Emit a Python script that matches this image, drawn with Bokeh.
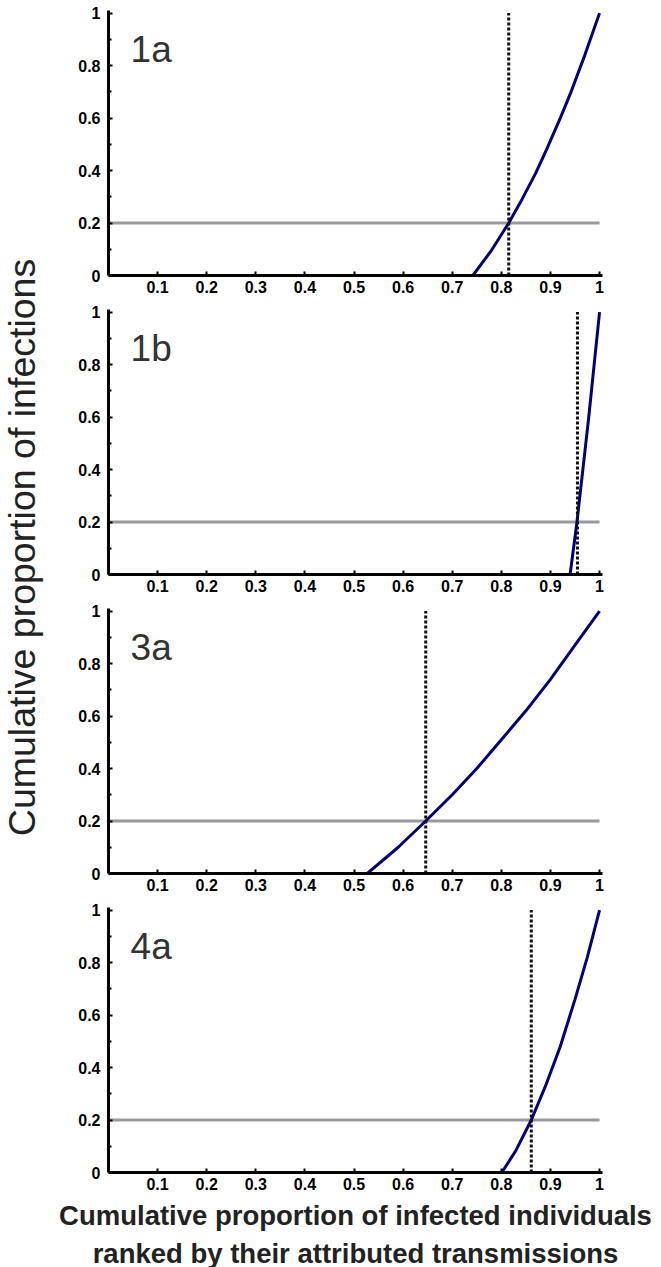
import math
from bokeh.plotting import figure
from bokeh.layouts import row, column
from bokeh.models import Range1d, FixedTicker, Label, Title
from bokeh.embed import file_html
from bokeh.resources import INLINE

# ---------------- data ----------------
panel_names = ["1a", "1b", "3a", "4a"]

x_1a = [0.742, 0.78, 0.815, 0.842, 0.87, 0.892, 0.92, 0.942, 0.97, 1.0]
y_1a = [0.0, 0.096, 0.2, 0.29, 0.39, 0.48, 0.60, 0.70, 0.84, 1.0]

x_1b = [0.940, 0.954, 0.966, 0.978, 0.989, 1.0]
y_1b = [0.0, 0.2, 0.4, 0.6, 0.8, 1.0]

x_3a = [0.527, 0.59, 0.646, 0.70, 0.75, 0.80, 0.85, 0.90, 0.95, 1.0]
y_3a = [0.0, 0.10, 0.2, 0.30, 0.40, 0.51, 0.62, 0.74, 0.87, 1.0]

x_4a = [0.801, 0.83, 0.861, 0.89, 0.92, 0.95, 0.975, 1.0]
y_4a = [0.0, 0.085, 0.2, 0.33, 0.48, 0.66, 0.82, 1.0]

curves_x = [x_1a, x_1b, x_3a, x_4a]
curves_y = [y_1a, y_1b, y_3a, y_4a]

cutoffs = [0.815, 0.955, 0.646, 0.861]   # dotted vertical lines
threshold_x = [0.0, 1.0]
threshold_y = [0.2, 0.2]

x_ticks = [0.1, 0.2, 0.3, 0.4, 0.5, 0.6, 0.7, 0.8, 0.9, 1.0]
x_tick_labels = ["0.1", "0.2", "0.3", "0.4", "0.5", "0.6", "0.7", "0.8", "0.9", "1"]
y_ticks = [0.0, 0.2, 0.4, 0.6, 0.8, 1.0]
y_tick_labels = ["0", "0.2", "0.4", "0.6", "0.8", "1"]
y_minor = [0.1, 0.3, 0.5, 0.7, 0.9]

y_label = "Cumulative proportion of infections"
x_label_1 = "Cumulative proportion of infected individuals"
x_label_2 = "ranked by their attributed transmissions"

FONT = "Liberation Sans"

# ---------------- panels ----------------
figs = []
for i, name in enumerate(panel_names):
    p = figure(frame_width=494, frame_height=265,
               x_range=Range1d(0, 1.006), y_range=Range1d(0, 1.01),
               output_backend="svg", toolbar_location=None,
               min_border_left=55, min_border_right=59,
               min_border_top=10, min_border_bottom=24)
    p.grid.visible = False
    p.outline_line_color = None

    p.xaxis.ticker = FixedTicker(ticks=x_ticks)
    p.xaxis.major_label_overrides = {t: l for t, l in zip(x_ticks, x_tick_labels)}
    p.yaxis.ticker = FixedTicker(ticks=y_ticks, minor_ticks=y_minor)
    p.yaxis.major_label_overrides = {t: l for t, l in zip(y_ticks, y_tick_labels)}
    for ax in (p.xaxis[0], p.yaxis[0]):
        ax.axis_line_width = 3
        ax.axis_line_color = "black"
        ax.major_tick_in = 4
        ax.major_tick_out = 0
        ax.minor_tick_in = 3
        ax.minor_tick_out = 0
        ax.major_tick_line_width = 2
        ax.minor_tick_line_width = 2
        ax.major_label_text_font = FONT
        ax.major_label_text_font_style = "bold"
        ax.major_label_text_font_size = "16px"
        ax.major_label_text_color = "black"
    p.xaxis.minor_tick_line_color = None
    p.xaxis.major_label_standoff = 5
    p.yaxis.major_label_standoff = 8

    # threshold line (gray)
    p.line(threshold_x, threshold_y, line_color="#999999", line_width=3)
    # curve
    p.line(curves_x[i], curves_y[i], line_color="#000080", line_width=3)
    # dotted cutoff
    p.segment(x0=[cutoffs[i]], y0=[0], x1=[cutoffs[i]], y1=[1],
              line_color="#111111", line_width=3, line_dash="3 2")

    # panel name
    p.add_layout(Label(x=0.045, y=0.86, text=name,
                       text_align="left", text_baseline="alphabetic",
                       text_font=FONT, text_font_size="37px",
                       text_color="#333333"))
    figs.append(p)

last = figs[-1]
last.add_layout(Title(text=x_label_1, align="center", text_font=FONT,
                      text_font_size="27.5px", text_font_style="bold",
                      text_color="#222222", standoff=10, offset=5), "below")
last.add_layout(Title(text=x_label_2, align="center", text_font=FONT,
                      text_font_size="27.5px", text_font_style="bold",
                      text_color="#222222", standoff=0, offset=5), "below")

# ---------------- y label figure ----------------
H = 1265
lab = figure(frame_width=53, frame_height=H, x_range=Range1d(0, 1),
             y_range=Range1d(0, 1), output_backend="svg",
             toolbar_location=None, min_border=0)
lab.axis.visible = False
lab.grid.visible = False
lab.outline_line_color = None
lab.text(x=[21 / 53], y=[1 - 547 / H], text=[y_label], angle=math.pi / 2,
         text_align="center", text_baseline="middle",
         text_font={"value": FONT}, text_font_size="37.5px",
         text_color="#222222")

page = row(lab, column(figs, spacing=0), spacing=0)
open("out.html", "w").write(file_html(page, INLINE))
